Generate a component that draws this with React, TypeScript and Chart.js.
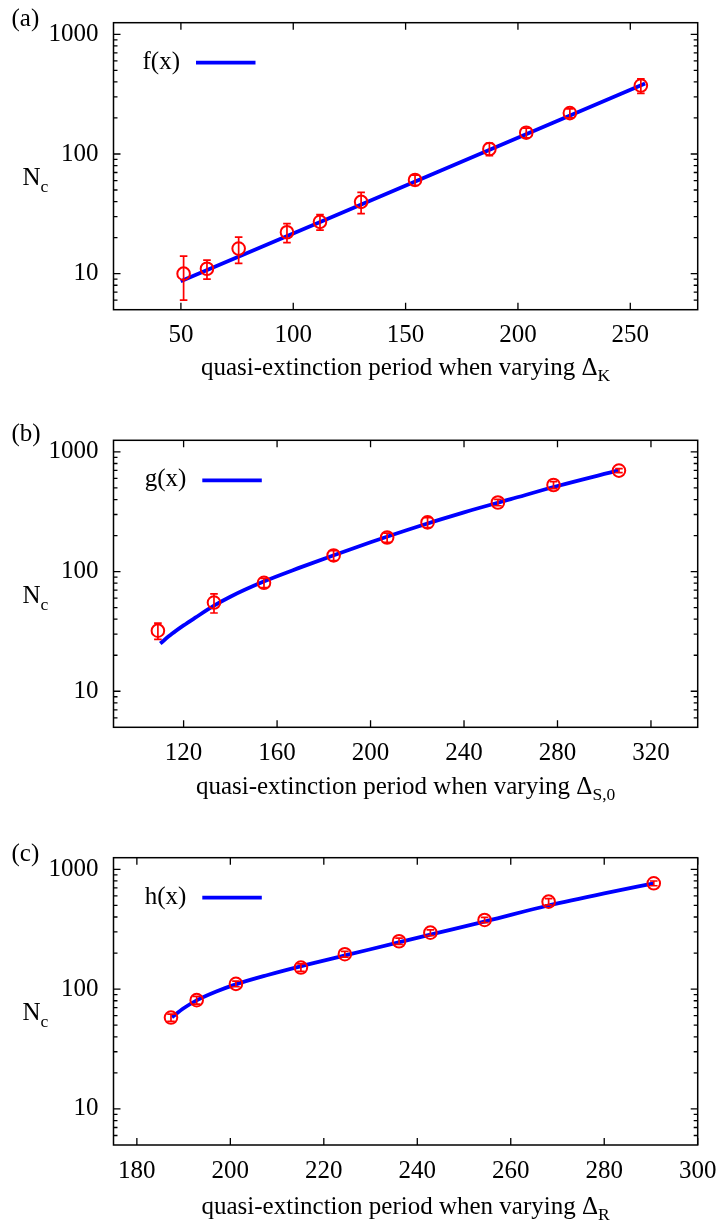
import React, { useEffect, useRef } from "react";
import { Chart, registerables } from "chart.js";
Chart.register(...registerables);

const SERIF = '"Liberation Serif", "Times New Roman", Times, serif';
const RED = "#ff0000";
const BLUE = "#0000ff";
const FS = 25;
const SUB = 17.5;

// ---------- shared y axis ----------
const yTickValues = [10, 100, 1000];
const yMinorValues = [6, 7, 8, 9, 20, 30, 40, 50, 60, 70, 80, 90, 200, 300, 400, 500, 600, 700, 800, 900];

// ---------- panel (a) ----------
const aPeriod = [51.2, 61.6, 75.7, 97.2, 111.9, 130.2, 154.2, 187.3, 203.7, 223.1, 254.7];
const aNc = [10, 11, 16.2, 22.2, 27.1, 39.8, 60.7, 110, 150.6, 219.6, 373];
const aErr = [4, 2, 4, 4, 4, 8, 6, 13, 14, 19, 52];
const aFitX = [49.9, 256.6];
const aFitY = [8.63, 388];
const aXTicks = [50, 100, 150, 200, 250];

// ---------- panel (b) ----------
const bPeriod = [109.0, 133.0, 154.4, 184.2, 207.1, 224.4, 254.5, 278.3, 306.3];
const bNc = [32.1, 55.1, 80.6, 136.4, 192.7, 257.6, 378, 529, 698];
const bErr = [5, 10, 7, 13, 17, 25, 23, 35, 28];
const bFitX = [110, 115, 120, 125, 133, 140, 154, 170, 184, 200, 220, 240, 260, 280, 306];
const bFitY = [25.1, 30.2, 35.5, 41.2, 51.9, 61.7, 82.2, 108.4, 136.5, 175.8, 237.1, 312.6, 402.7, 518.8, 699.8];
const bXTicks = [120, 160, 200, 240, 280, 320];

// ---------- panel (c) ----------
const cPeriod = [187.3, 192.8, 201.2, 215.1, 224.5, 236.1, 242.8, 254.4, 268.1, 290.6];
const cNc = [57.9, 80.9, 110.7, 151.4, 195.7, 251, 296, 378, 537, 764];
const cErr = [4, 6, 6, 11, 11, 15, 16, 19, 33, 35];
const cFitX = [187.5, 190, 193, 197, 201, 208, 215, 225, 236, 245, 255, 268, 280, 290.6];
const cFitY = [58.2, 69.2, 81.3, 95.5, 109.1, 131.2, 154.9, 192.8, 245.5, 298.5, 371.5, 498.9, 631, 763.8];
const cXTicks = [180, 200, 220, 240, 260, 280, 300];

type Cfg = {
  label: string;
  fitName: string;
  xSub: string;
  xMin: number;
  xMax: number;
  xTicks: number[];
  px: number[];
  py: number[];
  err: number[];
  fx: number[];
  fy: number[];
  top: number;
  height: number;
  areaTop: number;
  axisH: number;
  legendX: number;
  titleOffset: number;
  labelOffset: number;
};

const panels: Cfg[] = [
  {
    label: "(a)", fitName: "f(x)", xSub: "K", xMin: 20, xMax: 280, xTicks: aXTicks,
    px: aPeriod, py: aNc, err: aErr, fx: aFitX, fy: aFitY,
    top: 0, height: 405, areaTop: 22.7, axisH: 95.3, legendX: 82.5, titleOffset: 65.5, labelOffset: 3.5,
  },
  {
    label: "(b)", fitName: "g(x)", xSub: "S,0", xMin: 90, xMax: 340, xTicks: bXTicks,
    px: bPeriod, py: bNc, err: bErr, fx: bFitX, fy: bFitY,
    top: 405, height: 417, areaTop: 35.3, axisH: 94.7, legendX: 88.8, titleOffset: 66.5, labelOffset: 1,
  },
  {
    label: "(c)", fitName: "h(x)", xSub: "R", xMin: 175, xMax: 300, xTicks: cXTicks,
    px: cPeriod, py: cNc, err: cErr, fx: cFitX, fy: cFitY,
    top: 822, height: 400, areaTop: 35.7, axisH: 77, legendX: 88.8, titleOffset: 69, labelOffset: 3,
  },
];

function zeroPad(s: any) {
  s.paddingTop = 0;
  s.paddingBottom = 0;
  s.paddingLeft = 0;
  s.paddingRight = 0;
}

function decor(cfg: Cfg) {
  return {
    id: "decor",
    afterDatasetsDraw(chart: any) {
      const ctx = chart.ctx;
      const xs = chart.scales.x;
      const ys = chart.scales.y;
      ctx.save();
      ctx.strokeStyle = RED;
      ctx.lineWidth = 1.7;
      cfg.px.forEach((xv, i) => {
        const cx = xs.getPixelForValue(xv);
        const yt = ys.getPixelForValue(cfg.py[i] + cfg.err[i]);
        const yb = ys.getPixelForValue(cfg.py[i] - cfg.err[i]);
        ctx.beginPath();
        ctx.moveTo(cx, yt);
        ctx.lineTo(cx, yb);
        ctx.moveTo(cx - 3.8, yt);
        ctx.lineTo(cx + 3.8, yt);
        ctx.moveTo(cx - 3.8, yb);
        ctx.lineTo(cx + 3.8, yb);
        ctx.stroke();
      });
      ctx.restore();
    },
    afterDraw(chart: any) {
      const ctx = chart.ctx;
      const a = chart.chartArea;
      const xs = chart.scales.x;
      const ys = chart.scales.y;
      ctx.save();
      ctx.strokeStyle = "#000";
      ctx.lineWidth = 1.3;
      ctx.beginPath();
      for (const v of cfg.xTicks) {
        const p = xs.getPixelForValue(v);
        ctx.moveTo(p, a.bottom);
        ctx.lineTo(p, a.bottom - 7);
        ctx.moveTo(p, a.top);
        ctx.lineTo(p, a.top + 7);
      }
      for (const v of yTickValues) {
        const p = ys.getPixelForValue(v);
        ctx.moveTo(a.left, p);
        ctx.lineTo(a.left + 7, p);
        ctx.moveTo(a.right, p);
        ctx.lineTo(a.right - 7, p);
      }
      for (const v of yMinorValues) {
        const p = ys.getPixelForValue(v);
        ctx.moveTo(a.left, p);
        ctx.lineTo(a.left + 4, p);
        ctx.moveTo(a.right, p);
        ctx.lineTo(a.right - 4, p);
      }
      ctx.stroke();
      ctx.lineWidth = 1.5;
      ctx.strokeRect(a.left, a.top, a.right - a.left, a.bottom - a.top);

      ctx.fillStyle = "#000";
      ctx.textBaseline = "alphabetic";
      ctx.textAlign = "left";
      // panel label
      ctx.font = `${FS}px ${SERIF}`;
      ctx.fillText(cfg.label, 11.5, a.top + cfg.labelOffset);

      // y title N_c
      const nBase = ys.getPixelForValue(100) + 31;
      ctx.font = `${FS}px ${SERIF}`;
      ctx.fillText("N", 22.5, nBase);
      const nW = ctx.measureText("N").width;
      ctx.font = `${SUB}px ${SERIF}`;
      ctx.fillText("c", 22.5 + nW, nBase + 7);

      // x title
      const main = "quasi-extinction period when varying \u0394";
      ctx.font = `${FS}px ${SERIF}`;
      const mW = ctx.measureText(main).width;
      ctx.font = `${SUB}px ${SERIF}`;
      const sW = ctx.measureText(cfg.xSub).width;
      const x0 = (a.left + a.right) / 2 - (mW + sW) / 2;
      const tBase = a.bottom + cfg.titleOffset;
      ctx.font = `${FS}px ${SERIF}`;
      ctx.fillText(main, x0, tBase);
      ctx.font = `${SUB}px ${SERIF}`;
      ctx.fillText(cfg.xSub, x0 + mW, tBase + 6);

      // legend
      const ly = a.top + 40;
      const lx = a.left + cfg.legendX;
      ctx.font = `${FS}px ${SERIF}`;
      ctx.textAlign = "right";
      ctx.fillText(cfg.fitName, lx - 16, ly + 6);
      ctx.strokeStyle = BLUE;
      ctx.lineWidth = 3.8;
      ctx.beginPath();
      ctx.moveTo(lx, ly);
      ctx.lineTo(lx + 59.5, ly);
      ctx.stroke();
      ctx.restore();
    },
  };
}

function PanelChart({ cfg }: { cfg: Cfg }) {
  const ref = useRef<HTMLCanvasElement>(null);
  useEffect(() => {
    const canvas = ref.current!;
    const chart = new Chart(canvas, {
      type: "scatter",
      data: {
        datasets: [
          {
            type: "scatter",
            data: cfg.px.map((x, i) => ({ x, y: cfg.py[i] })),
            pointStyle: "circle",
            pointRadius: 6.3,
            pointBorderWidth: 2,
            pointBorderColor: RED,
            pointBackgroundColor: "rgba(0,0,0,0)",
            showLine: false,
            order: 0,
          } as any,
          {
            type: "line",
            data: cfg.fx.map((x, i) => ({ x, y: cfg.fy[i] })),
            borderColor: BLUE,
            borderWidth: 3.8,
            pointRadius: 0,
            fill: false,
            cubicInterpolationMode: "monotone",
            order: 1,
          } as any,
        ],
      },
      options: {
        animation: false,
        responsive: false,
        devicePixelRatio: 1,
        layout: { padding: { left: 0, right: 22.3, top: cfg.areaTop, bottom: 0 } },
        plugins: { legend: { display: false }, tooltip: { enabled: false } },
        scales: {
          x: {
            type: "linear",
            position: "bottom",
            min: cfg.xMin,
            max: cfg.xMax,
            grid: { display: false, drawTicks: false },
            border: { display: false },
            ticks: {
              font: { family: SERIF, size: FS },
              color: "#000",
              padding: 11,
              maxRotation: 0,
              autoSkip: false,
              callback: (v: any) => String(v),
            },
            afterBuildTicks: (s: any) => {
              s.ticks = cfg.xTicks.map((v) => ({ value: v }));
            },
            afterFit: (s: any) => {
              s.height = cfg.axisH;
              zeroPad(s);
            },
          },
          y: {
            type: "logarithmic",
            min: 5,
            max: 1250,
            grid: { display: false, drawTicks: false },
            border: { display: false },
            ticks: {
              font: { family: SERIF, size: FS },
              color: "#000",
              padding: 15,
              autoSkip: false,
              callback: (v: any) => String(v),
            },
            afterBuildTicks: (s: any) => {
              s.ticks = yTickValues.map((v) => ({ value: v }));
            },
            afterFit: (s: any) => {
              s.width = 113.5;
              zeroPad(s);
            },
          },
        },
      } as any,
      plugins: [decor(cfg)],
    });
    return () => chart.destroy();
  }, [cfg]);
  return (
    <canvas
      ref={ref}
      width={720}
      height={cfg.height}
      style={{ position: "absolute", left: 0, top: cfg.top, width: 720, height: cfg.height }}
    />
  );
}

export default function App() {
  return (
    <div style={{ position: "absolute", left: 0, top: 0, width: 720, height: 1222, background: "#fff" }}>
      {panels.map((p) => (
        <PanelChart key={p.label} cfg={p} />
      ))}
    </div>
  );
}
